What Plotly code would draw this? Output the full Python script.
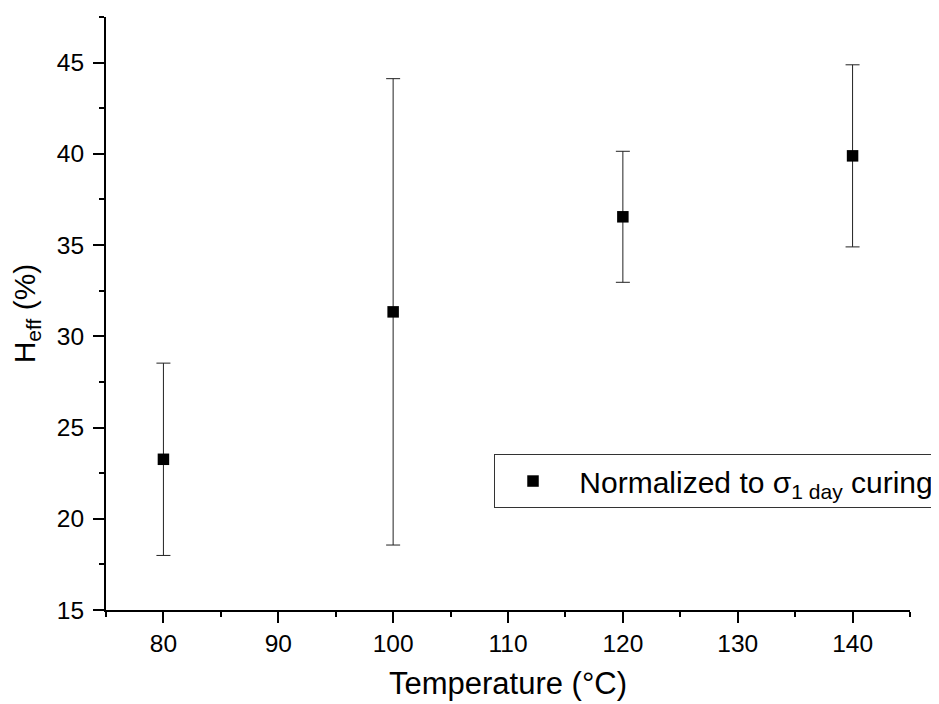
import plotly.graph_objects as go

temperature = [80, 100, 120, 140]
h_eff = [23.26, 31.34, 36.55, 39.89]
h_err = [5.27, 12.78, 3.59, 4.99]
series_name = "\u00a0Normalized to σ<sub>1 day</sub> curing"

FONT = "Liberation Sans, Arial, sans-serif"

fig = go.Figure()
fig.add_trace(go.Scatter(
    x=temperature, y=h_eff, mode="markers", name=series_name,
    marker=dict(symbol="square", size=11.5, color="black"),
    error_y=dict(type="data", array=h_err, visible=True, color="#222222",
                 thickness=1, width=7),
    showlegend=True,
))

def axis_style(minor_step, minor_start):
    return dict(
        showline=True, linecolor="black", linewidth=2,
        ticks="outside", ticklen=11, tickwidth=2, tickcolor="black",
        showgrid=False, zeroline=False, mirror=False,
        tickfont=dict(family=FONT, size=24.5, color="black"),
        minor=dict(ticks="outside", ticklen=5, tickwidth=2, tickcolor="black",
                   showgrid=False, dtick=minor_step, tick0=minor_start),
    )

# the page body has an 8px margin: the figure is sized to fit the 939x704 window
fig.update_layout(
    width=931, height=696,
    paper_bgcolor="white", plot_bgcolor="white",
    margin=dict(l=98, r=29, t=9, b=94, autoexpand=False),
    font=dict(family=FONT, color="black"),
    xaxis=dict(range=[75, 145], tick0=80, dtick=10,
               title=dict(text="Temperature (°C)", font=dict(family=FONT, size=31), standoff=16),
               **axis_style(5, 75)),
    yaxis=dict(range=[15, 47.5], tick0=15, dtick=5, ticklabelstandoff=4,
               title=dict(text="H<sub>eff</sub> (%)", font=dict(family=FONT, size=30), standoff=14),
               **axis_style(2.5, 15)),
    legend=dict(x=0.4826, y=0.263, xanchor="left", yanchor="top",
                bgcolor="white", bordercolor="#333333", borderwidth=1,
                font=dict(family=FONT, size=30, color="black"),
                itemwidth=66, tracegroupgap=0),
    showlegend=True,
)

fig.write_html("out.html")
